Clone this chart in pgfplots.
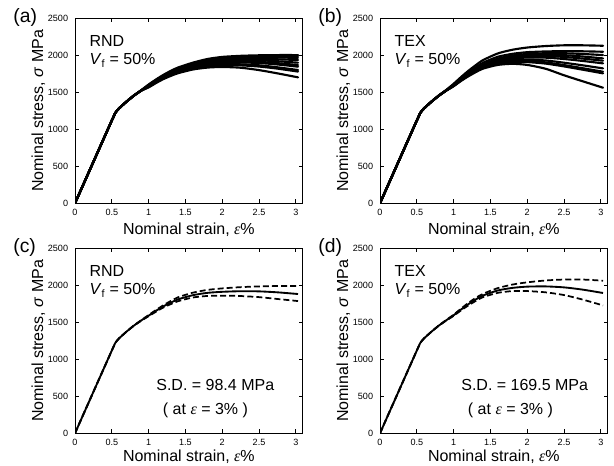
\documentclass[border=0pt]{standalone}
\usepackage{fontspec}
\setmainfont{Liberation Sans}
\newfontfamily\seriffont{Liberation Serif}
\usepackage{pgfplots}
\pgfplotsset{compat=1.18}
\usepackage{pgfplotstable}

\newcommand{\eps}{{\seriffont\itshape ε}}
\newcommand{\sig}{\textit{σ}}

\pgfplotstableread{
x c1 c2 c3 c4 c5 c6 c7 c8 c9 c10
0 0 0 0 0 0 0 0 0 0 0
0.1 225 225 225 225 225 225 225 225 225 225
0.2 448 448 448 448 448 448 448 448 448 448
0.3 672 672 672 672 672 672 672 672 672 672
0.4 895 895 895 895 895 895 895 895 895 895
0.5 1118 1118 1118 1118 1118 1118 1118 1118 1118 1118
0.55 1225 1225 1225 1225 1225 1225 1225 1225 1225 1225
0.6 1284 1284 1284 1284 1284 1284 1284 1284 1284 1284
0.7 1374 1374 1374 1374 1374 1374 1374 1374 1374 1374
0.8 1455 1455 1455 1455 1455 1455 1455 1455 1455 1455
0.9 1528 1527 1526 1525 1525 1524 1524 1523 1523 1522
1.0 1605 1600 1596 1592 1588 1584 1580 1576 1572 1566
1.1 1673 1666 1660 1655 1650 1645 1641 1636 1632 1625
1.2 1735 1727 1720 1714 1708 1702 1697 1692 1687 1678
1.3 1789 1780 1771 1764 1757 1750 1744 1738 1732 1721
1.4 1835 1825 1815 1808 1800 1792 1785 1778 1771 1758
1.6 1900 1890 1880 1870 1860 1850 1842 1832 1824 1808
1.8 1950 1937 1923 1912 1900 1888 1878 1864 1854 1834
2.0 1978 1964 1950 1937 1922 1908 1897 1878 1866 1842
2.25 1993 1980 1964 1950 1933 1916 1903 1878 1864 1832
2.5 2000 1988 1970 1952 1932 1911 1896 1865 1848 1800
2.75 2003 1991 1970 1946 1920 1894 1876 1838 1820 1756
3.03 2003 1990 1965 1936 1900 1868 1846 1801 1780 1702
}\rnd

\pgfplotstableread{
x c1 c2 c3 c4 c5 c6 c7 c8 c9 c10
0 0 0 0 0 0 0 0 0 0 0
0.1 225 225 225 225 225 225 225 225 225 225
0.2 448 448 448 448 448 448 448 448 448 448
0.3 672 672 672 672 672 672 672 672 672 672
0.4 895 895 895 895 895 895 895 895 895 895
0.5 1118 1118 1118 1118 1118 1118 1118 1118 1118 1118
0.55 1225 1225 1225 1225 1225 1225 1225 1225 1225 1225
0.6 1284 1284 1284 1284 1284 1284 1284 1284 1284 1284
0.7 1374 1374 1374 1374 1374 1374 1374 1374 1374 1374
0.8 1458 1456 1455 1455 1455 1455 1455 1455 1454 1454
0.9 1532 1528 1526 1526 1525 1525 1525 1524 1524 1523
1.0 1615 1605 1598 1595 1593 1591 1589 1587 1585 1582
1.1 1705 1690 1680 1675 1671 1668 1665 1661 1658 1653
1.2 1790 1770 1755 1748 1742 1738 1733 1728 1724 1716
1.3 1866 1838 1818 1810 1803 1797 1791 1785 1779 1772
1.4 1935 1900 1875 1865 1857 1850 1842 1835 1828 1820
1.6 2025 1980 1955 1942 1930 1920 1908 1898 1888 1870
1.8 2075 2020 1997 1983 1968 1955 1935 1920 1908 1885
2.0 2105 2042 2018 2005 1988 1970 1942 1922 1908 1870
2.25 2125 2052 2028 2010 1990 1968 1930 1904 1888 1818
2.5 2135 2056 2028 2002 1978 1950 1900 1868 1850 1730
2.75 2135 2054 2018 1984 1956 1924 1865 1826 1806 1650
3.03 2129 2048 2003 1958 1927 1891 1823 1778 1756 1562
}\tex

\pgfplotstableread{
x m u l
0 0 0 0
0.1 225 225 225
0.2 448 448 448
0.3 672 672 672
0.4 895 895 895
0.5 1118 1118 1118
0.55 1225 1225 1225
0.6 1284 1284 1284
0.7 1374 1374 1374
0.8 1455 1457 1453
0.9 1525 1529 1521
1.0 1590 1598 1582
1.1 1655 1666 1643
1.2 1715 1730 1700
1.3 1765 1787 1745
1.4 1810 1838 1785
1.6 1866 1900 1835
1.8 1898 1938 1856
2.0 1912 1958 1860
2.25 1920 1975 1855
2.5 1918 1985 1840
2.75 1905 1990 1815
3.03 1882 1992 1787
}\rndsd

\pgfplotstableread{
x m u l
0 0 0 0
0.1 225 225 225
0.2 448 448 448
0.3 672 672 672
0.4 895 895 895
0.5 1118 1118 1118
0.55 1225 1225 1225
0.6 1284 1284 1284
0.7 1374 1374 1374
0.8 1456 1458 1454
0.9 1527 1531 1523
1.0 1595 1603 1587
1.1 1672 1684 1660
1.2 1745 1762 1728
1.3 1808 1829 1788
1.4 1862 1885 1840
1.6 1930 1962 1898
1.8 1965 2010 1922
2.0 1982 2040 1922
2.25 1985 2065 1905
2.5 1972 2078 1868
2.75 1942 2078 1808
3.03 1896 2062 1728
}\texsd

\tikzset{
  txt/.style={anchor=base west, font=\fontsize{12}{14}\selectfont, inner sep=0pt},
  plab/.style={anchor=base west, font=\fontsize{14.5}{16}\selectfont, inner sep=0pt},
}

\pgfplotsset{
  panel/.style={
    scale only axis, width=170.8pt, height=138.75pt, anchor=south west,
    xmin=0, xmax=3.094, ymin=0, ymax=2500,
    xtick={0,0.5,...,3}, ytick={0,500,...,2500},
    tick align=inside, major tick length=3pt,
    tick style={black, line width=0.6pt},
    axis line style={line width=0.75pt},
    /pgf/number format/assume math mode=true,
    /pgf/number format/1000 sep={},
    scaled ticks=false,
    tick label style={font=\fontsize{6.8}{8}\selectfont},
    yticklabel style={anchor=east, inner sep=0pt, xshift=-5pt},
    xticklabel style={anchor=north, inner sep=0pt, yshift=-4.3pt},
    label style={font=\fontsize{12}{14}\selectfont},
    xlabel={Nominal strain, \eps\%},
    ylabel={Nominal stress, \sig\ MPa},
    xlabel style={at={(axis description cs:0.5,-0.168)}, anchor=base},
    ylabel style={at={(axis description cs:-0.1405,0.5)}, anchor=base},
    clip mode=individual,
  },
  lowpanel/.style={xlabel style={at={(axis description cs:0.5,-0.152)}}},
  curve/.style={black, line width=1.6pt, smooth, tension=0.4, line join=round, line cap=round},
  mcurve/.style={black, line width=1.4pt, smooth, tension=0.4, line join=round},
  dcurve/.style={black, line width=1.3pt, smooth, tension=0.4, dash pattern=on 4.5pt off 2.3pt},
}

\begin{document}
\begin{tikzpicture}
\useasboundingbox (0,0) rectangle (460.5pt,348.75pt);

% (a)
\begin{axis}[panel, at={(56.25pt,196.28pt)}]
\pgfplotsinvokeforeach{1,...,10}{\addplot[curve] table[x=x,y=c#1]{\rnd};}
\node[txt] at (rel axis cs:0.063,0.846) {RND};
\node[txt] at (rel axis cs:0.063,0.748) {\textit{V}\textsubscript{f} = 50\%};
\node[plab] at (rel axis cs:-0.272,0.977) {(a)};
\end{axis}

% (b)
\begin{axis}[panel, at={(285pt,196.28pt)}]
\pgfplotsinvokeforeach{1,...,10}{\addplot[curve] table[x=x,y=c#1]{\tex};}
\node[txt] at (rel axis cs:0.063,0.846) {TEX};
\node[txt] at (rel axis cs:0.063,0.748) {\textit{V}\textsubscript{f} = 50\%};
\node[plab] at (rel axis cs:-0.272,0.977) {(b)};
\end{axis}

% (c)
\begin{axis}[panel, lowpanel, at={(56.25pt,23.78pt)}]
\addplot[dcurve] table[x=x,y=u]{\rndsd};
\addplot[dcurve] table[x=x,y=l]{\rndsd};
\addplot[mcurve] table[x=x,y=m]{\rndsd};
\node[txt] at (rel axis cs:0.063,0.846) {RND};
\node[txt] at (rel axis cs:0.063,0.748) {\textit{V}\textsubscript{f} = 50\%};
\node[txt] at (rel axis cs:0.356,0.234) {S.D. = 98.4 MPa};
\node[txt] at (rel axis cs:0.385,0.099) {( at \eps\ = 3\% )};
\node[plab] at (rel axis cs:-0.272,0.977) {(c)};
\end{axis}

% (d)
\begin{axis}[panel, lowpanel, at={(285pt,23.78pt)}]
\addplot[dcurve] table[x=x,y=u]{\texsd};
\addplot[dcurve] table[x=x,y=l]{\texsd};
\addplot[mcurve] table[x=x,y=m]{\texsd};
\node[txt] at (rel axis cs:0.063,0.846) {TEX};
\node[txt] at (rel axis cs:0.063,0.748) {\textit{V}\textsubscript{f} = 50\%};
\node[txt] at (rel axis cs:0.356,0.234) {S.D. = 169.5 MPa};
\node[txt] at (rel axis cs:0.385,0.099) {( at \eps\ = 3\% )};
\node[plab] at (rel axis cs:-0.272,0.977) {(d)};
\end{axis}
\end{tikzpicture}
\end{document}
